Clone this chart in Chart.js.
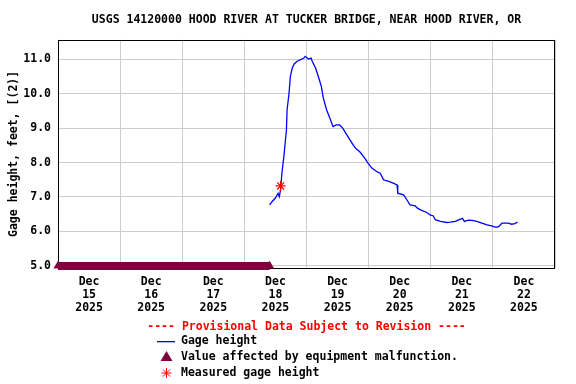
<!DOCTYPE html>
<html lang="en">
<head>
  <meta charset="UTF-8">
  <title>USGS 14120000 Hood River</title>
  <script src="https://cdn.jsdelivr.net/npm/chart.js"></script>
  <style>
    body { margin: 0; background: white; }
    canvas { display: block; }
  </style>
</head>
<body>

<canvas id="gageChart" width="576" height="384"></canvas>

<script>
  // gage height, feet (15-min data)
  const gageTimes = [
    '2025-12-18T09:45','2025-12-18T10:45','2025-12-18T12:00','2025-12-18T13:00','2025-12-18T13:30','2025-12-18T14:00',
    '2025-12-18T14:30','2025-12-18T15:15','2025-12-18T15:45','2025-12-18T16:15','2025-12-18T16:30','2025-12-18T17:15',
    '2025-12-18T17:45','2025-12-18T18:30','2025-12-18T19:15','2025-12-18T20:15','2025-12-18T21:30','2025-12-18T23:00',
    '2025-12-18T23:30',
    '2025-12-19T00:45','2025-12-19T01:45','2025-12-19T02:15','2025-12-19T03:30','2025-12-19T04:45','2025-12-19T05:45',
    '2025-12-19T06:30','2025-12-19T07:45','2025-12-19T09:00','2025-12-19T10:15','2025-12-19T11:30','2025-12-19T12:45',
    '2025-12-19T14:00','2025-12-19T16:00','2025-12-19T18:00','2025-12-19T19:15','2025-12-19T20:30','2025-12-19T22:30',
    '2025-12-19T23:45',
    '2025-12-20T01:15','2025-12-20T03:30','2025-12-20T04:30','2025-12-20T05:45','2025-12-20T07:45','2025-12-20T09:30',
    '2025-12-20T11:00','2025-12-20T11:15','2025-12-20T13:30','2025-12-20T14:45','2025-12-20T16:00','2025-12-20T18:00',
    '2025-12-20T19:00','2025-12-20T20:30','2025-12-20T22:30','2025-12-20T23:45',
    '2025-12-21T01:00','2025-12-21T01:45','2025-12-21T03:45','2025-12-21T06:15','2025-12-21T07:30','2025-12-21T09:30',
    '2025-12-21T11:30','2025-12-21T12:15','2025-12-21T13:00','2025-12-21T14:30','2025-12-21T16:00','2025-12-21T17:45',
    '2025-12-21T19:45','2025-12-21T21:45','2025-12-21T23:30',
    '2025-12-22T01:15','2025-12-22T02:15','2025-12-22T03:30','2025-12-22T06:00','2025-12-22T07:15','2025-12-22T08:30',
    '2025-12-22T09:30'
  ];
  const gageValues = [
    6.77, 6.87, 6.97, 7.11, 7.01, 7.22, 7.69, 8.17, 8.56, 8.95, 9.53, 10.01, 10.49, 10.74, 10.86, 10.93, 10.98, 11.03, 11.08,
    11.00, 11.03, 10.93, 10.74, 10.45, 10.20, 9.87, 9.53, 9.29, 9.04, 9.09, 9.09, 9.00, 8.75, 8.51, 8.39, 8.32, 8.13, 7.98,
    7.84, 7.72, 7.69, 7.50, 7.45, 7.40, 7.35, 7.11, 7.06, 6.92, 6.77, 6.74, 6.67, 6.61, 6.55, 6.48,
    6.45, 6.34, 6.29, 6.26, 6.27, 6.29, 6.36, 6.38, 6.29, 6.33, 6.32, 6.29, 6.24, 6.19, 6.16,
    6.12, 6.14, 6.24, 6.24, 6.21, 6.23, 6.27
  ];

  // period flagged "equipment malfunction", drawn on the bottom of the axis
  const malfunctionTimes = ['2025-12-15T00:00', '2025-12-18T09:45'];
  const malfunctionValues = [5.0, 5.0];

  // field measurement
  const measuredTimes = ['2025-12-18T14:00'];
  const measuredValues = [7.32];

  // axes
  const xStart = '2025-12-15T00:00';
  const xEnd = '2025-12-23T00:00';
  const tickTimes = ['2025-12-15T12:00','2025-12-16T12:00','2025-12-17T12:00','2025-12-18T12:00',
                     '2025-12-19T12:00','2025-12-20T12:00','2025-12-21T12:00','2025-12-22T12:00'];
  const tickLabels = [['Dec','15','2025'],['Dec','16','2025'],['Dec','17','2025'],['Dec','18','2025'],
                      ['Dec','19','2025'],['Dec','20','2025'],['Dec','21','2025'],['Dec','22','2025']];
  const yTicks = [5, 6, 7, 8, 9, 10, 11];

  const titleText = 'USGS 14120000 HOOD RIVER AT TUCKER BRIDGE, NEAR HOOD RIVER, OR';
  const yTitle = 'Gage height, feet, [(2)]';
  const provisionalText = '---- Provisional Data Subject to Revision ----';
  const legendLabels = ['Gage height', 'Value affected by equipment malfunction.', 'Measured gage height'];

  const FONT = '"DejaVu Sans Mono", "Liberation Mono", monospace';
  const MAROON = '#800040';

  function toPoints(times, values) {
    return times.map((t, i) => ({ x: Date.parse(t), y: values[i] }));
  }

  const frame = {
    id: 'frame',
    beforeDatasetsDraw(chart) {
      const a = chart.chartArea;
      const ctx = chart.ctx;
      ctx.save();
      ctx.strokeStyle = 'black';
      ctx.lineWidth = 1;
      ctx.strokeRect(Math.round(a.left) + 0.5, Math.round(a.top) + 0.5,
                     Math.round(a.right - a.left) - 1, Math.round(a.bottom - a.top));
      ctx.restore();
    }
  };

  const bottomLegend = {
    id: 'bottomLegend',
    afterDraw(chart) {
      const ctx = chart.ctx;
      const a = chart.chartArea;
      ctx.save();
      ctx.font = 'bold 11.5px ' + FONT;
      ctx.textBaseline = 'middle';

      ctx.fillStyle = 'red';
      ctx.textAlign = 'center';
      ctx.fillText(provisionalText, (a.left + a.right) / 2, 327);

      ctx.textAlign = 'left';
      ctx.fillStyle = 'black';
      const rows = [341, 357, 373];
      legendLabels.forEach((txt, i) => ctx.fillText(txt, 181, rows[i]));

      // line symbol
      ctx.fillStyle = '#0000ff';
      ctx.fillRect(157, 341, 18, 1.3);

      // triangle symbol
      ctx.fillStyle = MAROON;
      ctx.beginPath();
      ctx.moveTo(166.5, 351);
      ctx.lineTo(172.5, 361);
      ctx.lineTo(160.5, 361);
      ctx.closePath();
      ctx.fill();

      // star symbol
      ctx.strokeStyle = 'red';
      ctx.fillStyle = 'red';
      Chart.helpers.drawPoint(ctx, { pointStyle: 'star', radius: 5, borderWidth: 1 }, 166.5, 373);
      ctx.restore();
    }
  };

  const ctx = document.getElementById('gageChart').getContext('2d');
  const chart = new Chart(ctx, {
    type: 'line',
    data: {
      datasets: [
        {
          label: 'Measured gage height',
          type: 'scatter',
          data: toPoints(measuredTimes, measuredValues),
          pointStyle: 'star',
          pointRadius: 5,
          borderColor: 'red',
          backgroundColor: 'red',
          pointBorderWidth: 1.2
        },
        {
          label: 'Gage height',
          data: toPoints(gageTimes, gageValues),
          borderColor: '#0000ff',
          borderWidth: 1.3,
          pointRadius: 0,
          tension: 0
        },
        {
          label: 'Value affected by equipment malfunction.',
          data: toPoints(malfunctionTimes, malfunctionValues),
          borderColor: MAROON,
          backgroundColor: MAROON,
          borderWidth: 8,
          pointStyle: 'triangle',
          pointRadius: 5.3,
          pointBorderWidth: 0,
          pointBackgroundColor: MAROON,
          clip: false
        }
      ]
    },
    options: {
      responsive: false,
      animation: false,
      layout: { padding: { left: 0, right: 21, top: 0, bottom: 68 } },
      plugins: {
        legend: { display: false },
        tooltip: { enabled: false },
        title: {
          display: true,
          text: titleText,
          fullSize: false,
          color: 'black',
          font: { family: FONT, size: 11.5, weight: 'bold', lineHeight: 1.2 },
          padding: { top: 13, bottom: 13 }
        }
      },
      scales: {
        x: {
          type: 'linear',
          min: Date.parse(xStart),
          max: Date.parse(xEnd),
          afterBuildTicks: (scale) => {
            scale.ticks = tickTimes.map(t => ({ value: Date.parse(t) }));
          },
          afterFit: (scale) => { scale.height = 48; },
          grid: { color: '#cccccc', offset: true, drawTicks: false },
          border: { display: false },
          ticks: {
            color: 'black',
            padding: 8,
            maxRotation: 0,
            autoSkip: false,
            font: { family: FONT, size: 11.5, weight: 'bold', lineHeight: 1.11 },
            callback: (value, index) => tickLabels[index]
          }
        },
        y: {
          min: 4.94,
          max: 11.56,
          afterBuildTicks: (scale) => {
            scale.ticks = yTicks.map(v => ({ value: v }));
          },
          afterFit: (scale) => { scale.width = 58; },
          grid: { color: '#cccccc', drawTicks: false },
          border: { display: false },
          title: {
            display: true,
            text: yTitle,
            color: 'black',
            font: { family: FONT, size: 11.5, weight: 'bold', lineHeight: 1.2 },
            padding: { top: 7, bottom: 0 }
          },
          ticks: {
            color: 'black',
            padding: 7,
            font: { family: FONT, size: 11.5, weight: 'bold' },
            callback: (value) => Number(value).toFixed(1)
          }
        }
      }
    },
    plugins: [frame, bottomLegend]
  });
</script>

</body>
</html>
